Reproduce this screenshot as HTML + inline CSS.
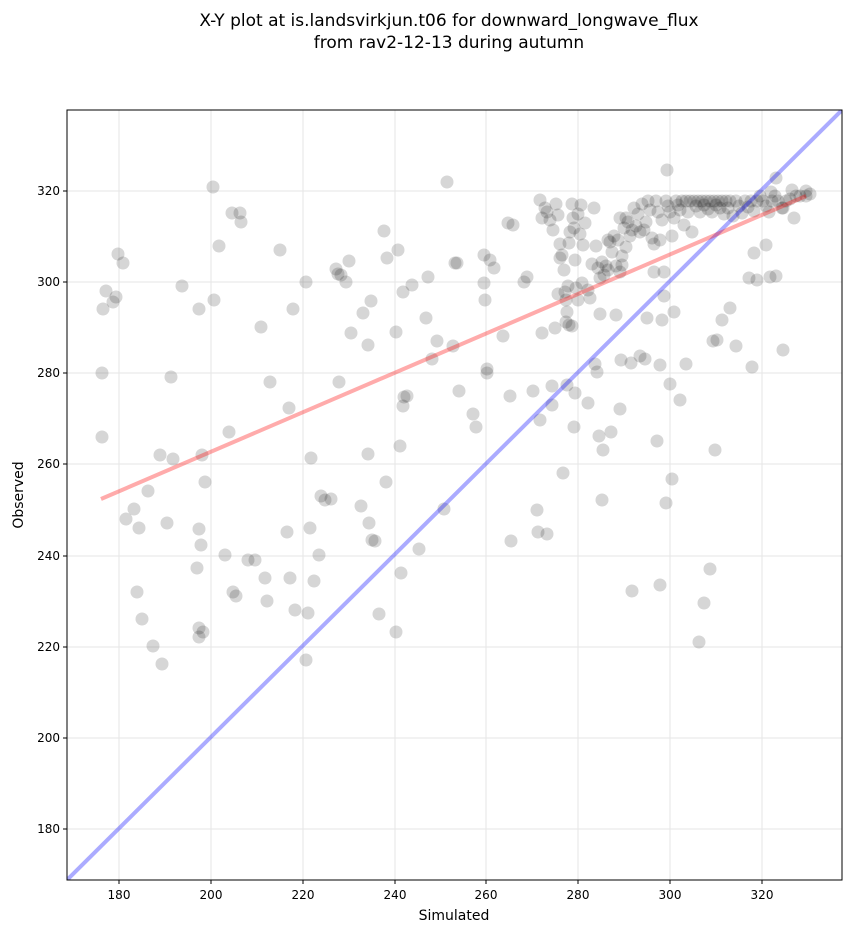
<!DOCTYPE html>
<html><head><meta charset="utf-8"><style>body{margin:0;background:#fff}svg{display:block}text{font-family:"DejaVu Sans","Liberation Sans",sans-serif}</style></head><body>
<svg width="851" height="934" viewBox="0 0 851 934" xmlns="http://www.w3.org/2000/svg">
<text x="449" y="26" font-size="17" text-anchor="middle">X-Y plot at is.landsvirkjun.t06 for downward_longwave_flux</text>
<text x="449" y="48" font-size="17" text-anchor="middle">from rav2-12-13 during autumn</text>
<defs><clipPath id="c"><rect x="67" y="110" width="775" height="770"/></clipPath></defs>
<g stroke="#e6e6e6" stroke-width="1">
<line x1="119" y1="110" x2="119" y2="880"/><line x1="211" y1="110" x2="211" y2="880"/><line x1="303" y1="110" x2="303" y2="880"/><line x1="395" y1="110" x2="395" y2="880"/><line x1="486" y1="110" x2="486" y2="880"/><line x1="578" y1="110" x2="578" y2="880"/><line x1="670" y1="110" x2="670" y2="880"/><line x1="762" y1="110" x2="762" y2="880"/>
<line x1="67" y1="829" x2="842" y2="829"/><line x1="67" y1="738" x2="842" y2="738"/><line x1="67" y1="647" x2="842" y2="647"/><line x1="67" y1="556" x2="842" y2="556"/><line x1="67" y1="464" x2="842" y2="464"/><line x1="67" y1="373" x2="842" y2="373"/><line x1="67" y1="282" x2="842" y2="282"/><line x1="67" y1="191" x2="842" y2="191"/>
</g>
<g clip-path="url(#c)" fill="#000" fill-opacity="0.16" id="pts"></g>
<g clip-path="url(#c)">
<line x1="67" y1="880" x2="842" y2="110" stroke="#0000ff" stroke-opacity="0.33" stroke-width="4"/>
<line x1="101" y1="499" x2="806" y2="196" stroke="#ff0000" stroke-opacity="0.33" stroke-width="4"/>
</g>
<rect x="67" y="110" width="775" height="770" fill="none" stroke="#000" stroke-width="1"/>
<g font-size="12" text-anchor="middle">
<text x="119" y="899">180</text><text x="211" y="899">200</text><text x="303" y="899">220</text><text x="395" y="899">240</text><text x="486" y="899">260</text><text x="578" y="899">280</text><text x="670" y="899">300</text><text x="762" y="899">320</text>
</g>
<g font-size="12" text-anchor="end">
<text x="60" y="833">180</text><text x="60" y="742">200</text><text x="60" y="651">220</text><text x="60" y="560">240</text><text x="60" y="468">260</text><text x="60" y="377">280</text><text x="60" y="286">300</text><text x="60" y="195">320</text>
</g>
<g stroke="#000"><line x1="119" y1="880" x2="119" y2="884"/><line x1="211" y1="880" x2="211" y2="884"/><line x1="303" y1="880" x2="303" y2="884"/><line x1="395" y1="880" x2="395" y2="884"/><line x1="486" y1="880" x2="486" y2="884"/><line x1="578" y1="880" x2="578" y2="884"/><line x1="670" y1="880" x2="670" y2="884"/><line x1="762" y1="880" x2="762" y2="884"/>
<line x1="63" y1="829" x2="67" y2="829"/><line x1="63" y1="738" x2="67" y2="738"/><line x1="63" y1="647" x2="67" y2="647"/><line x1="63" y1="556" x2="67" y2="556"/><line x1="63" y1="464" x2="67" y2="464"/><line x1="63" y1="373" x2="67" y2="373"/><line x1="63" y1="282" x2="67" y2="282"/><line x1="63" y1="191" x2="67" y2="191"/></g>
<text x="454" y="920" font-size="14" text-anchor="middle">Simulated</text>
<text transform="translate(23,495) rotate(-90)" font-size="14" text-anchor="middle">Observed</text>
</svg>
<script>
var p=[[103,309],[106,291],[102,373],[102,437],[113,302],[116,297],[118,254],[123,263],[126,519],[134,509],[137,592],[139,528],[142,619],[148,491],[153,646],[160,455],[162,664],[167,523],[171,377],[173,459],[182,286],[199,309],[199,529],[197,568],[201,545],[199,628],[199,637],[203,632],[202,455],[205,482],[213,187],[214,300],[219,246],[225,555],[229,432],[232,213],[233,592],[236,596],[240,213],[241,222],[248,560],[255,560],[261,327],[265,578],[267,601],[270,382],[280,250],[289,408],[287,532],[290,578],[293,309],[295,610],[308,613],[306,282],[306,660],[310,528],[311,458],[314,581],[319,555],[321,496],[325,500],[331,499],[336,269],[338,274],[339,382],[341,275],[346,282],[351,333],[349,261],[361,506],[363,313],[368,345],[368,454],[369,523],[371,301],[372,540],[375,541],[379,614],[384,231],[387,258],[386,482],[396,632],[396,332],[398,250],[400,446],[401,573],[403,406],[403,292],[404,397],[407,396],[412,285],[419,549],[426,318],[428,277],[432,359],[437,341],[447,182],[444,509],[453,346],[455,263],[457,263],[459,391],[473,414],[476,427],[484,255],[484,283],[485,300],[487,373],[487,369],[490,260],[494,268],[503,336],[508,223],[510,396],[511,541],[513,225],[524,282],[527,277],[533,391],[537,510],[538,532],[540,420],[542,333],[547,534],[552,386],[552,405],[555,328],[558,294],[560,258],[563,473],[567,385],[569,325],[572,326],[574,427],[575,393],[582,283],[588,403],[595,364],[597,372],[600,314],[599,436],[602,500],[603,450],[608,240],[611,432],[616,315],[620,272],[621,360],[622,265],[620,409],[626,247],[631,363],[632,591],[640,356],[645,359],[647,318],[654,272],[657,441],[660,365],[660,585],[662,320],[664,296],[666,503],[667,170],[670,384],[672,479],[674,312],[680,400],[686,364],[699,642],[704,603],[710,569],[713,341],[715,450],[717,340],[722,320],[730,308],[736,346],[749,278],[752,367],[754,253],[757,280],[766,245],[770,277],[776,276],[783,350],[776,178],[771,192],[792,190],[806,191],[794,218],[783,208],
[540,200],[542,218],[545,208],[547,212],[550,220],[553,230],[556,204],[558,215],[560,244],[562,255],[564,270],[565,292],[566,300],[566,322],[567,312],[568,286],[569,243],[570,232],[572,204],[573,218],[574,228],[575,260],[576,288],[578,300],[578,214],[580,234],[581,205],[583,245],[585,223],[588,290],[590,298],[592,264],[594,208],[596,246],[598,268],[600,278],[602,262],[604,275],[606,266],[608,270],[610,242],[612,252],[614,236],[616,266],[618,240],[620,218],[622,256],[624,228],[626,218],[628,222],[630,236],[632,230],[634,208],[636,226],[638,214],[640,232],[642,204],[644,230],[646,222],[648,201],[650,210],[652,238],[654,244],[656,201],[658,212],[660,240],[662,220],[664,272],[666,201],[668,206],[670,212],[672,236],[674,218],[676,201],[678,205],[680,210],[682,201],[684,225],[686,201],[688,212],[690,201],[692,232],[694,201],[696,206],[698,201],[700,212],[702,201],[704,205],[706,201],[708,209],[710,201],[712,212],[714,201],[716,205],[718,201],[720,208],[722,201],[724,214],[726,201],[728,208],[730,201],[733,216],[736,201],[739,206],[742,213],[745,201],[748,207],[751,201],[754,211],[757,201],[760,196],[763,201],[766,206],[769,212],[772,201],[775,196],[778,201],[782,208],[786,201],[790,199],[796,196],[800,196],[806,196],[810,194]];
var g=document.getElementById('pts'),h='';p.forEach(function(a){h+='<circle cx="'+a[0]+'" cy="'+a[1]+'" r="6.5"/>';});g.innerHTML=h;
</script>
</body></html>
